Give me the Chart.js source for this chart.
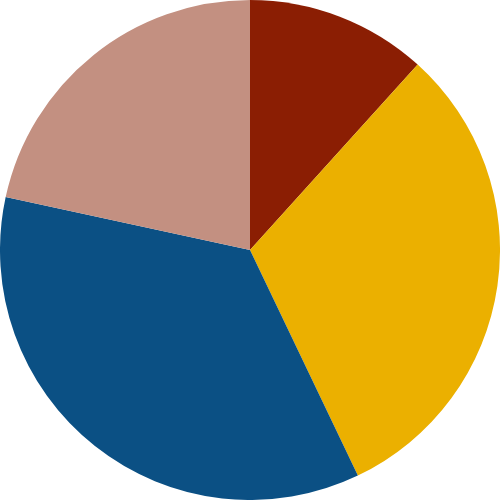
<!DOCTYPE html>
<html>
<head>
<meta charset="utf-8">
<script src="https://cdn.jsdelivr.net/npm/chart.js@4/dist/chart.umd.min.js"></script>
<style>
  html, body { margin: 0; padding: 0; background: #fff; }
  #box { width: 500px; height: 500px; }
</style>
</head>
<body>
<div id="box"><canvas id="myChart"></canvas></div>
<script>
'use strict';

// slices clockwise from 12 o'clock
let sliceNames = ['A', 'B', 'C', 'D'];
let sliceValues = [11.7, 31.2, 35.5, 21.6];
let sliceColors = ['#8B1E03', '#EBB000', '#0B5084', '#C39081'];

let ctx = document.getElementById('myChart').getContext('2d');
let myChart = new Chart(ctx, {
    type: 'pie',
    data: {
        labels: sliceNames,
        datasets: [{
            data: sliceValues,
            backgroundColor: sliceColors,
            borderWidth: 0
        }]
    },
    options: {
        responsive: true,
        maintainAspectRatio: false,
        animation: false,
        layout: { padding: 0 },
        plugins: {
            legend: { display: false },
            tooltip: { enabled: false }
        }
    }
});
</script>
</body>
</html>
